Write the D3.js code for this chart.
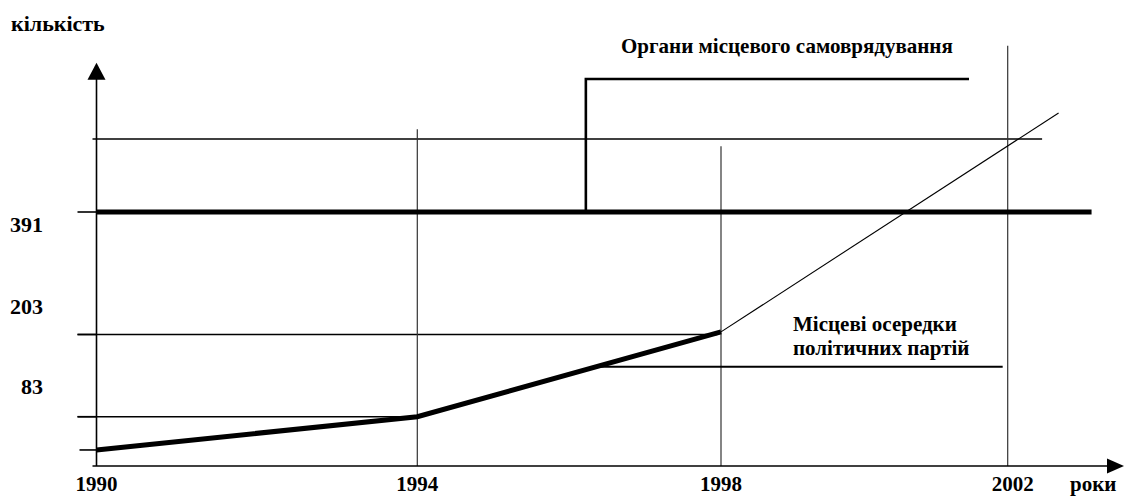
<!DOCTYPE html>
<html>
<head>
<meta charset="utf-8">
<script src="https://cdn.jsdelivr.net/npm/d3@7/dist/d3.min.js"></script>
<style>
  body { margin: 0; background: #fff; }
  text { font-family: "Liberation Serif", "Times New Roman", serif; font-weight: bold; fill: #000; }
</style>
</head>
<body>
<svg id="chart" width="1124" height="496"></svg>
<script>
// years on the x axis and the values marked on the y axis
var years = [1990, 1994, 1998, 2002]
var yTicks = [27, 83, 203, 391]
var yTickLabels = ['', '83', '203', '391']

// local party cells: measured part (thick) and trend (thin)
var partyYears = [1990, 1994, 1998]
var partyValues = [27, 83, 207]
var trendYears = [1998, 2002.71]
var trendValues = [207, 543]

// local self-government bodies
var councilYears = [1990, 2003.17]
var councilValues = [391, 391]
var stepYears = [1996.22, 1996.22, 2001.46]
var stepValues = [391, 595, 595]

// guide lines: horizontal (value, last year) and vertical tops per year
var guideValues = [83, 203, 503]
var guideEnds = [1994, 1997.95, 2002.48]
var yearTops = [620, 518, 492, 646]
var labelLineYears = [1996.42, 2001.93]
var labelLineValue = 156

var svg = d3.select('#chart')

// schematic drawing: scales are piecewise between the marked values
var x = d3.scaleLinear().domain(years).range([96.5, 417.3, 721, 1007.7])
var y = d3.scaleLinear().domain([0, 83, 203, 391]).range([466, 416.7, 334.5, 212])

var line = d3.line().x(function(d) { return x(d[0]) }).y(function(d) { return y(d[1]) })

// horizontal guides
svg.selectAll('line.guide')
    .data(guideValues)
    .enter()
    .append('line')
    .attr('class', 'guide')
    .attr('x1', function(d, i) { return i == 2 ? x(1990) - 4 : x(1990) - 19 })
    .attr('x2', function(d, i) { return x(guideEnds[i]) })
    .attr('y1', function(d) { return y(d) })
    .attr('y2', function(d) { return y(d) })
    .attr('stroke', '#000')
    .attr('stroke-width', 1.4)

// vertical year lines
svg.selectAll('line.year')
    .data(years.slice(1))
    .enter()
    .append('line')
    .attr('class', 'year')
    .attr('x1', function(d) { return x(d) })
    .attr('x2', function(d) { return x(d) })
    .attr('y1', function(d, i) { return y(yearTops[i + 1]) })
    .attr('y2', y(0))
    .attr('stroke', '#333')
    .attr('stroke-width', 1.2)

// ticks on the y axis
svg.selectAll('line.tick')
    .data(yTicks)
    .enter()
    .append('line')
    .attr('class', 'tick')
    .attr('x1', function(d, i) { return x(1990) - (i == 0 ? 17 : 19) })
    .attr('x2', x(1990))
    .attr('y1', function(d) { return y(d) })
    .attr('y2', function(d) { return y(d) })
    .attr('stroke', '#000')
    .attr('stroke-width', 1.6)

// axes
svg.append('line')
    .attr('x1', x(1990))
    .attr('x2', x(1990))
    .attr('y1', y(0))
    .attr('y2', y(yearTops[0]) + 16)
    .attr('stroke', '#000')
    .attr('stroke-width', 1.6)
svg.append('path')
    .attr('d', 'M' + x(1990) + ',' + y(yearTops[0]) + 'l-9,17h18z')
    .attr('fill', '#000')
svg.append('line')
    .attr('x1', x(1990) - 4)
    .attr('x2', 1110)
    .attr('y1', y(0))
    .attr('y2', y(0))
    .attr('stroke', '#000')
    .attr('stroke-width', 1.6)
svg.append('path')
    .attr('d', 'M1124,' + y(0) + 'l-17,-7.5v15z')
    .attr('fill', '#000')

// local self-government bodies
svg.append('path')
    .attr('d', line(councilYears.map(function(d, i) { return [d, councilValues[i]] })))
    .attr('fill', 'none')
    .attr('stroke', '#000')
    .attr('stroke-width', 5)
svg.append('path')
    .attr('d', line(stepYears.map(function(d, i) { return [d, stepValues[i]] })))
    .attr('fill', 'none')
    .attr('stroke', '#000')
    .attr('stroke-width', 2.6)

// party cells
svg.append('path')
    .attr('d', line(partyYears.map(function(d, i) { return [d, partyValues[i]] })))
    .attr('fill', 'none')
    .attr('stroke', '#000')
    .attr('stroke-width', 5)
svg.append('path')
    .attr('d', line(trendYears.map(function(d, i) { return [d, trendValues[i]] })))
    .attr('fill', 'none')
    .attr('stroke', '#000')
    .attr('stroke-width', 1.1)
svg.append('line')
    .attr('x1', x(labelLineYears[0]))
    .attr('x2', x(labelLineYears[1]))
    .attr('y1', y(labelLineValue))
    .attr('y2', y(labelLineValue))
    .attr('stroke', '#000')
    .attr('stroke-width', 2)

// labels
var labelShift = [0, -23, -21, 20]
svg.selectAll('text.ylab')
    .data(yTicks)
    .enter()
    .append('text')
    .attr('class', 'ylab')
    .attr('x', 43)
    .attr('y', function(d, i) { return y(d) + labelShift[i] })
    .attr('text-anchor', 'end')
    .attr('font-size', 22)
    .text(function(d, i) { return yTickLabels[i] })

svg.selectAll('text.xlab')
    .data(years)
    .enter()
    .append('text')
    .attr('class', 'xlab')
    .attr('x', function(d) { return x(d) + (d == 2002 ? 5 : 0) })
    .attr('y', 491)
    .attr('text-anchor', 'middle')
    .attr('font-size', 21)
    .text(function(d) { return d })

svg.append('text').attr('x', 1070).attr('y', 491).attr('font-size', 21).text('роки')
svg.append('text').attr('x', 11).attr('y', 31).attr('font-size', 22).text('кількість')
svg.append('text').attr('x', 621).attr('y', 53).attr('font-size', 21).text('Органи місцевого самоврядування')
svg.append('text').attr('x', 793).attr('y', 331).attr('font-size', 21).text('Місцеві осередки')
svg.append('text').attr('x', 793).attr('y', 355).attr('font-size', 21).text('політичних партій')
</script>
</body>
</html>
